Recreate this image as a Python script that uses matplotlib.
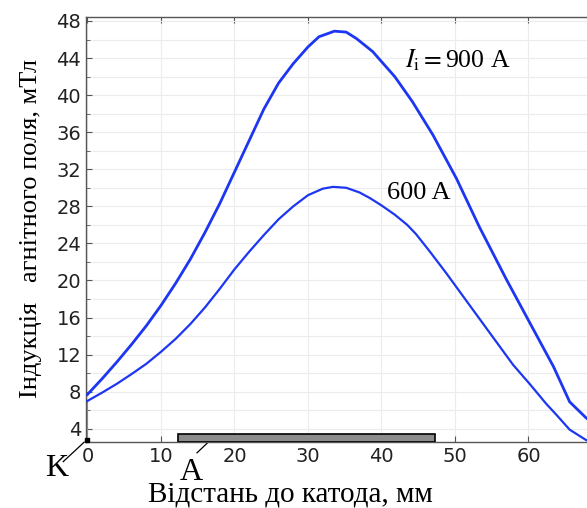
import matplotlib
matplotlib.use("Agg")
import matplotlib.pyplot as plt
from matplotlib.ticker import MultipleLocator
from matplotlib.patches import Rectangle

# induction along the axis, mT, for two arc currents
x900 = [0, 2, 4, 6, 8, 10, 12, 14, 16, 18, 20, 22, 24, 26, 28, 30, 31.5, 33.6, 35.2,
        36.6, 38.8, 41.8, 44.2, 47.0, 50.2, 53.3, 57.0, 60.2, 63.4, 65.6, 67.8, 70.0]
b900 = [7.7, 9.4, 11.2, 13.1, 15.1, 17.3, 19.7, 22.3, 25.2, 28.3, 31.7, 35.1, 38.5, 41.3,
        43.4, 45.2, 46.3, 46.9, 46.8, 46.1, 44.7, 42.0, 39.3, 35.7, 31.0, 25.8, 20.1, 15.4,
        10.7, 6.9, 5.2, 3.8]

x600 = [0, 2, 4, 6, 8, 10, 12, 14, 16, 18, 20, 22, 24, 26, 28, 30, 32, 33.4, 35.2, 37,
        38.4, 40, 41.8, 43.5, 44.7, 46.5, 48.8, 53.3, 57.9, 60.2, 62.4, 63.8, 65.6, 67.8,
        70.0]
b600 = [7.0, 7.9, 8.85, 9.9, 11.0, 12.3, 13.7, 15.3, 17.1, 19.1, 21.2, 23.1, 24.9, 26.6,
        28.0, 29.2, 29.9, 30.1, 30.0, 29.5, 28.9, 28.1, 27.1, 26.0, 25.0, 23.2, 20.8, 15.9,
        10.9, 8.8, 6.7, 5.5, 3.9, 2.8, 2.0]

# anode block position, mm
anode = [12.3, 47.3]
anode_top = 3.4

ymin, ymax = 2.6, 48.46

plt.rcParams['mathtext.fontset'] = 'stix'
serif = 'Liberation Serif'

fig = plt.figure(figsize=(5.87, 5.08), dpi=100)
ax = fig.add_axes([0.1465, 0.1305, 0.9041, 0.8366])
ax.set_xlim(-0.2, 72)
ax.set_ylim(ymin, ymax)

ax.xaxis.set_major_locator(MultipleLocator(10))
ax.yaxis.set_minor_locator(MultipleLocator(2))
ax.set_yticks([4, 8, 12, 16, 20, 24, 28, 32, 36, 40, 44, 48])
ax.grid(True, which='major', axis='x', color='#ececec', lw=0.8)
ax.grid(True, which='both', axis='y', color='#ececec', lw=0.8)
ax.set_axisbelow(True)
ax.tick_params(which='both', direction='in', top=True, right=True,
               colors='#555555', labelcolor='#222222', labelsize=14)
ax.tick_params(which='major', length=4)
ax.tick_params(which='minor', length=3)
for lab in ax.get_xticklabels() + ax.get_yticklabels():
    lab.set_family('DejaVu Sans')
for s in ax.spines.values():
    s.set_color('#555555')
    s.set_linewidth(1.0)

# anode and cathode
ax.add_patch(Rectangle((anode[0], ymin), anode[1] - anode[0], anode_top - ymin,
                       facecolor='#8c8c8c', edgecolor='black', lw=1.2, zorder=3))
ax.plot([0, 0], [ymin, 6.9], color='#888888', lw=0.8, zorder=3)
ax.plot([0], [ymin + 0.15], marker='s', ms=3.5, color='black', clip_on=False, zorder=4)

ax.plot(x900, b900, color='#1c36f2', lw=2.0, zorder=5)
ax.plot(x600, b600, color='#1c36f2', lw=1.6, zorder=5)

ax.text(43.2, 43.8, r'$I_{\mathrm{i}}{=}$900 A', family=serif, fontsize=18.5,
        va='center', ha='left')
ax.text(40.7, 29.4, '600 A', family=serif, fontsize=19, va='center', ha='left')

# electrode labels with leader lines
ax.plot([-3.3, -0.45], [0.45, 2.55], color='black', lw=0.9, clip_on=False)
ax.text(-4.15, -0.25, 'K', family=serif, fontsize=23, ha='center', va='center')
ax.plot([14.9, 16.7], [1.4, 2.75], color='black', lw=0.9, clip_on=False)
ax.text(14.1, -0.7, 'A', family=serif, fontsize=23, ha='center', va='center')

fig.text(0.494, 0.026, 'Відстань до катода, мм', family=serif, fontsize=21,
         ha='center', va='center')
fig.text(0.052, 0.551, 'Індукція   агнітного поля, мТл', family=serif, fontsize=19,
         ha='center', va='center', rotation=90)

fig.savefig('out.png', dpi=100)
